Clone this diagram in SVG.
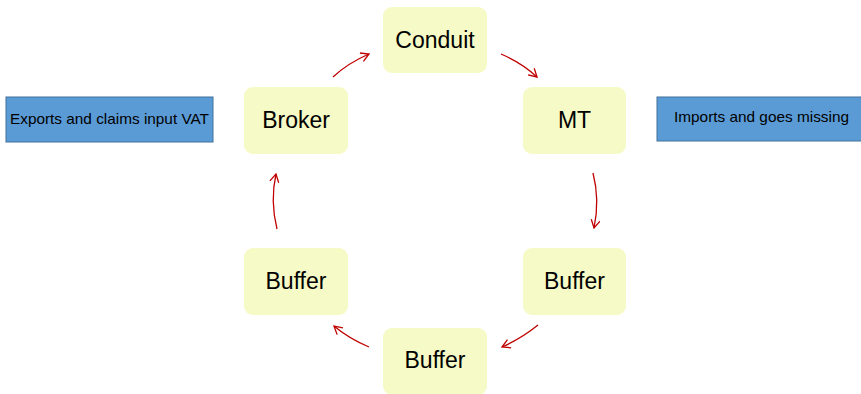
<svg xmlns="http://www.w3.org/2000/svg" width="861" height="394" viewBox="0 0 861 394">
<style>
.node rect{fill:#f5fac6;stroke:none}
.node text{font-family:"Liberation Sans",Arial,sans-serif;font-size:23px;fill:#000;text-anchor:middle}
.note rect{fill:#5b9bd5;stroke:#41719c;stroke-width:1}
.note text{font-family:"Liberation Sans",Arial,sans-serif;font-size:15px;fill:#000;text-anchor:middle}
.conn path{fill:none;stroke:#c00000;stroke-width:1.3;marker-end:url(#ah)}
</style>
<defs>
<marker id="ah" markerUnits="userSpaceOnUse" markerWidth="12" markerHeight="12" refX="9" refY="5" orient="auto">
<path d="M1,0.5 L9,5 L1,9.5" fill="none" stroke="#c00000" stroke-width="1.3"/>
</marker>
</defs>
<rect width="861" height="394" fill="#fff"/>
<g id="note-left" class="note"><rect x="6" y="97" width="207" height="45"/><text x="109.5" y="124" textLength="199" lengthAdjust="spacingAndGlyphs">Exports and claims input VAT</text></g>
<g id="note-right" class="note"><rect x="657" y="97" width="206" height="44"/><text x="761.5" y="122" textLength="175" lengthAdjust="spacingAndGlyphs">Imports and goes missing</text></g>
<g id="conduit" class="node"><rect x="383" y="7" width="104" height="66" rx="9"/><text x="435" y="48">Conduit</text></g>
<g id="broker" class="node"><rect x="244" y="87" width="104" height="67" rx="9"/><text x="296" y="128">Broker</text></g>
<g id="mt" class="node"><rect x="523" y="87" width="103" height="67" rx="9"/><text x="574.5" y="128">MT</text></g>
<g id="buffer-left" class="node"><rect x="244" y="248" width="104" height="67" rx="9"/><text x="296" y="289">Buffer</text></g>
<g id="buffer-right" class="node"><rect x="523" y="248" width="103" height="67" rx="9"/><text x="574.5" y="289">Buffer</text></g>
<g id="buffer-bottom" class="node"><rect x="383" y="328" width="104" height="67" rx="9"/><text x="435" y="368">Buffer</text></g>
<g id="connectors" class="conn">
<path d="M333,77 Q348,63 369,54"/>
<path d="M501,54 Q522,63 537,77"/>
<path d="M593,173 Q600,200 594,228"/>
<path d="M538,325 Q522,338 502,347"/>
<path d="M369,347 Q348,338 334,326"/>
<path d="M277,229 Q270,201 276,174"/>
</g>
</svg>
